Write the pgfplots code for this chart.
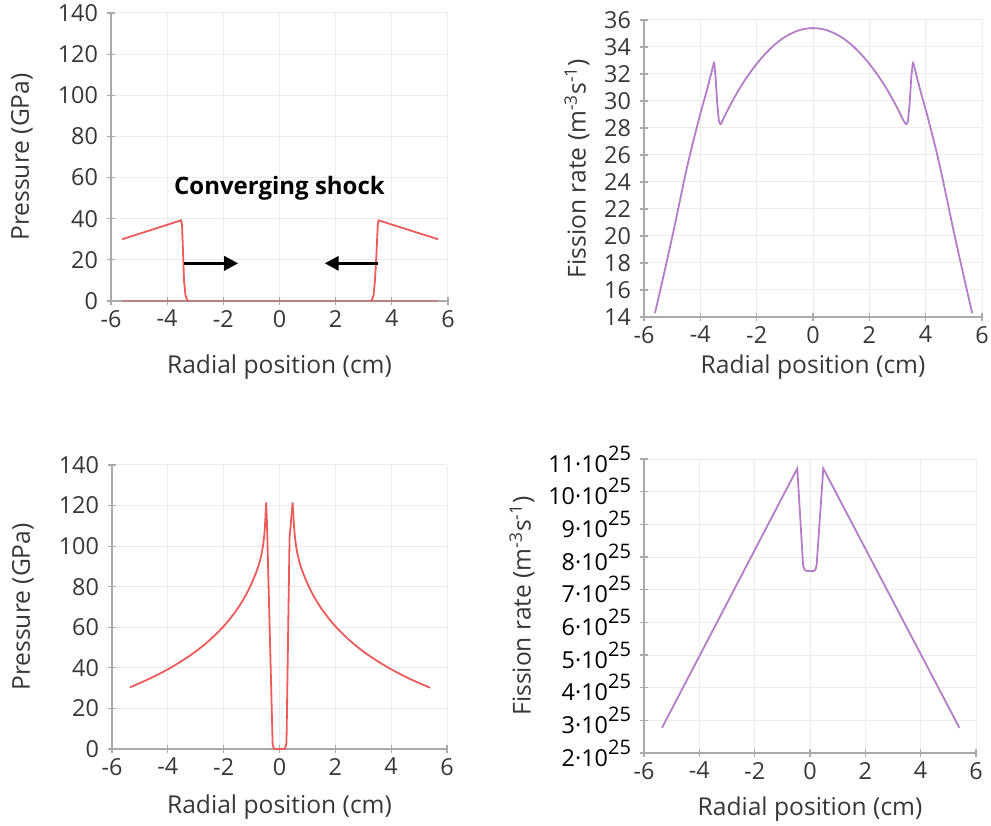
\documentclass[border=0pt]{standalone}
\usepackage{pgfplots}
\pgfplotsset{compat=1.18}
\usepackage{fontspec}
\setmainfont{Open Sans}
\usetikzlibrary{arrows.meta}
\definecolor{txt}{RGB}{55,55,55}
\definecolor{axl}{RGB}{170,170,170}
\definecolor{grd}{RGB}{236,236,236}
\definecolor{pred}{RGB}{236,90,90}
\definecolor{pbase}{RGB}{185,130,130}
\definecolor{ppur}{RGB}{180,125,200}
\newcommand{\ex}{\raisebox{0.95ex}{\fontsize{10}{10}\selectfont 25}}
\pgfplotsset{
  panel/.style={
    scale only axis,
    axis x line*=bottom, axis y line*=left,
    axis line style={axl, line width=1pt},
    tick style={axl, line width=0.6pt},
    tick align=center, major tick length=4pt,
    grid=major, grid style={grd, line width=0.5pt},
    ticklabel style={font=\fontsize{11.7}{13}\selectfont, text=txt},
    label style={font=\fontsize{12.3}{14}\selectfont, text=txt},
    /pgf/number format/assume math mode=true,
    xmin=-6, xmax=6, xtick={-6,-4,...,6},
    xticklabel style={yshift=1pt},
    yticklabel style={xshift=-1pt},
    clip=false,
  },
  cur/.style={line width=0.9pt},
}
\begin{document}
\begin{tikzpicture}
\useasboundingbox (0,0) rectangle (495.5pt,412.5pt);
% Panel 1
\begin{axis}[panel, at={(55.5pt,262pt)}, anchor=south west,
  width=168.5pt, height=144pt,
  ymin=0, ymax=140, ytick={0,20,...,140},
  xlabel={Radial position (cm)}, ylabel={Pressure (GPa)},
  xlabel style={at={(axis description cs:0.5,0)}, anchor=center, yshift=-33pt},
  ylabel style={at={(axis description cs:0,0.5)}, anchor=center, yshift=44.5pt}]
\addplot[pbase, line width=0.7pt] coordinates {(-5.6,0) (5.65,0)};
\addplot[pred, cur] coordinates {
(-5.6,30) (-3.51,39.2) (-3.47,37) (-3.43,22) (-3.4,10) (-3.35,3) (-3.3,0.8) (-3.25,0)};
\addplot[pred, cur] coordinates {
(3.25,0) (3.3,0.8) (3.35,3) (3.4,10) (3.45,22) (3.5,37) (3.53,39.2) (5.65,30)};
\draw[black, line width=1.6pt, -{Triangle[length=7pt,width=7pt]}] (axis cs:-3.39,18.3) -- (axis cs:-1.47,18.3);
\draw[black, line width=1.6pt, -{Triangle[length=7pt,width=7pt]}] (axis cs:3.49,18.3) -- (axis cs:1.61,18.3);
\node[font=\bfseries\fontsize{12}{14}\selectfont, text=black] at (axis cs:0,55) {Converging shock};
\end{axis}
% Panel 2
\begin{axis}[panel, at={(322pt,254pt)}, anchor=south west,
  width=169pt, height=148.5pt,
  ymin=14, ymax=36, ytick={14,16,...,36},
  xlabel={Radial position (cm)}, ylabel={Fission rate (m\textsuperscript{-3}s\textsuperscript{-1})},
  xlabel style={at={(axis description cs:0.5,0)}, anchor=center, yshift=-25pt},
  ylabel style={at={(axis description cs:0,0.5)}, anchor=center, yshift=33.5pt}]
\addplot[ppur, cur, smooth, tension=0.6] coordinates {
(-5.61,14.3) (-5.4,16.2) (-4.97,20.2) (-4.45,25.3) (-4.02,28.9) (-3.78,30.7) (-3.51,32.9)};
\addplot[ppur, cur] coordinates {(-3.51,32.9) (-3.46,31.8) (-3.4,29.8) (-3.34,28.5) (-3.28,28.25)};
\addplot[ppur, cur, smooth, tension=0.6] coordinates {
(-3.28,28.25) (-3.2,28.6) (-3.0,29.45) (-2.6,30.95)
(-2.2,32.2) (-1.8,33.25) (-1.4,34.1) (-1.0,34.74) (-0.6,35.16) (-0.3,35.34) (0,35.4)
(0.3,35.34) (0.6,35.16) (1.0,34.74) (1.4,34.1) (1.8,33.25) (2.2,32.2) (2.6,30.95)
(3.0,29.45) (3.2,28.6) (3.31,28.25)};
\addplot[ppur, cur] coordinates {(3.31,28.25) (3.37,28.5) (3.43,29.8) (3.49,31.8) (3.55,32.9)};
\addplot[ppur, cur, smooth, tension=0.6] coordinates {
(3.55,32.9) (3.82,30.7) (4.06,28.9) (4.49,25.3) (5.01,20.2) (5.44,16.2) (5.65,14.3)};
\end{axis}
% Panel 3
\begin{axis}[panel, at={(56pt,38pt)}, anchor=south west,
  width=167.5pt, height=142pt,
  ymin=0, ymax=140, ytick={0,20,...,140},
  xlabel={Radial position (cm)}, ylabel={Pressure (GPa)},
  xlabel style={at={(axis description cs:0.5,0)}, anchor=center, yshift=-29pt},
  ylabel style={at={(axis description cs:0,0.5)}, anchor=center, yshift=44.5pt}]
\addplot[pred, cur, smooth, tension=0.6] coordinates {
(-5.36,30.4) (-5,32.5) (-4.5,35.7) (-4,39.3) (-3.5,43.4) (-3,48.1) (-2.5,53.7) (-2,60.5)
(-1.6,67.3) (-1.3,73.6) (-1.1,78.7) (-0.94,83.5) (-0.8,88.4) (-0.7,92.8) (-0.6,99.5) (-0.53,108) (-0.48,121.4)};
\addplot[pred, cur] coordinates {
(-0.48,121.4) (-0.45,112) (-0.245,2) (-0.2,0.3) (-0.15,0) (0.15,0) (0.2,0.3) (0.25,3) (0.36,104) (0.47,121.4)};
\addplot[pred, cur, smooth, tension=0.6] coordinates {
(0.47,121.4) (0.53,108) (0.6,99.5) (0.7,92.8) (0.8,88.4) (0.94,83.5) (1.1,78.7) (1.3,73.6) (1.6,67.3) (2,60.5) (2.5,53.7) (3,48.1)
(3.5,43.4) (4,39.3) (4.5,35.7) (5,32.5) (5.4,30.2)};
\end{axis}
% Panel 4
\begin{axis}[panel, at={(322pt,36pt)}, anchor=south west,
  width=166pt, height=147pt,
  ymin=2, ymax=11, ytick={2,3,...,11},
  yticklabels={2·10\ex,3·10\ex,4·10\ex,5·10\ex,6·10\ex,7·10\ex,8·10\ex,9·10\ex,10·10\ex,11·10\ex},
  yticklabel style={text=black},
  xlabel={Radial position (cm)}, ylabel={Fission rate (m\textsuperscript{-3}s\textsuperscript{-1})},
  xlabel style={at={(axis description cs:0.5,0)}, anchor=center, yshift=-28pt},
  ylabel style={at={(axis description cs:0,0.5)}, anchor=center, yshift=61pt}]
\addplot[ppur, cur] coordinates {
(-5.35,2.77) (-0.46,10.71) (-0.25,7.75) (-0.2,7.62) (-0.13,7.57) (0.14,7.57) (0.2,7.62) (0.24,7.75)
(0.48,10.71) (5.4,2.77)};
\end{axis}
\end{tikzpicture}
\end{document}
